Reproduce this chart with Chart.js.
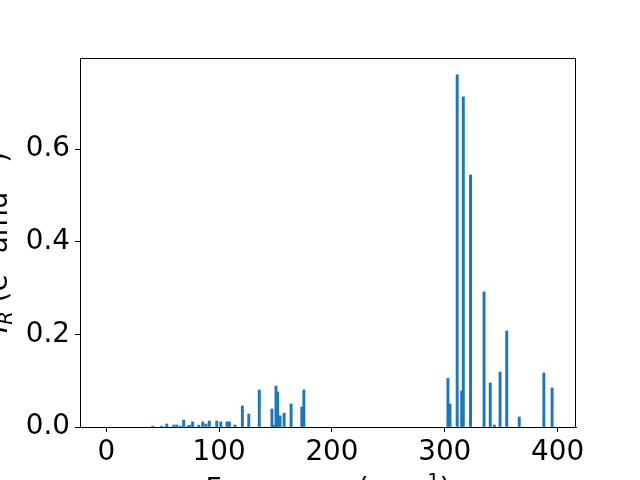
<!DOCTYPE html>
<html>
<head>
<meta charset="utf-8">
<script src="https://cdn.jsdelivr.net/npm/chart.js@4"></script>
<style>
  body { margin: 0; background: #fff; }
  canvas { display: block; }
</style>
</head>
<body>
<canvas id="irChart" width="640" height="480"></canvas>
<script>
// frequencies (cm^-1) and intensities
var freqs = [41.1, 49.1, 53.6, 59.8, 62.4, 65.6, 68.6, 72.2, 74.0, 76.6,
  81.9, 85.5, 88.3, 91.3, 97.9, 101.5, 107.0, 109.1, 114.1, 120.6,
  126.3, 135.6, 146.8, 148.2, 150.4, 151.9, 154.0, 157.6, 163.8, 173.3,
  175.1, 302.8, 304.6, 311.0, 315.0, 316.4, 322.8, 334.8, 340.3, 343.9,
  349.0, 354.9, 366.0, 387.8, 395.1];
var intensities = [0.002, 0.002, 0.0065, 0.0043, 0.0043, 0.002, 0.015, 0.002, 0.004, 0.011,
  0.004, 0.011, 0.0065, 0.013, 0.013, 0.011, 0.011, 0.011, 0.0043, 0.0454,
  0.028, 0.080, 0.0389, 0.004, 0.0886, 0.0756, 0.024, 0.030, 0.0497, 0.0432,
  0.080, 0.105, 0.0497, 0.7606, 0.0778, 0.713, 0.5445, 0.2917, 0.0951, 0.0043,
  0.1188, 0.2074, 0.0216, 0.1167, 0.0843];
var xTicks = [0, 100, 200, 300, 400];
var yTicks = [0.0, 0.2, 0.4, 0.6];

var tickFont = { family: 'DejaVu Sans', size: 27.8 };

function drawRuns(ctx, runs) {
  var total = 0;
  runs.forEach(function(r) {
    ctx.font = r.font;
    r.w = ctx.measureText(r.text).width;
    total += r.w;
  });
  var x = -total / 2;
  runs.forEach(function(r) {
    ctx.font = r.font;
    ctx.fillText(r.text, x, r.dy || 0);
    x += r.w;
  });
}

var axisTitles = {
  id: 'axisTitles',
  afterDraw: function(chart) {
    var ctx = chart.ctx;
    var area = chart.chartArea;
    var big = '27.8px "DejaVu Sans"';
    var bigIt = 'italic 27.8px "DejaVu Sans"';
    var small = '19.5px "DejaVu Sans"';
    var smallIt = 'italic 19.5px "DejaVu Sans"';

    ctx.save();
    // frame (top and right spines)
    ctx.strokeStyle = '#000';
    ctx.lineWidth = 1;
    ctx.strokeRect(area.left + 0.5, area.top + 0.5, area.right - area.left - 1, area.bottom - area.top);

    ctx.fillStyle = '#000';
    ctx.textAlign = 'left';
    ctx.textBaseline = 'alphabetic';

    // x title
    ctx.save();
    ctx.translate((area.left + area.right) / 2, 498);
    drawRuns(ctx, [
      { text: 'Frequency (cm', font: big },
      { text: '\u22121', font: small, dy: -11 },
      { text: ')', font: big }
    ]);
    ctx.restore();

    // y title
    ctx.save();
    ctx.translate(7, (area.top + area.bottom) / 2);
    ctx.rotate(-Math.PI / 2);
    drawRuns(ctx, [
      { text: 'I', font: bigIt },
      { text: 'R', font: smallIt, dy: 5 },
      { text: ' (e', font: big },
      { text: '2', font: small, dy: -11 },
      { text: ' amu', font: big },
      { text: '\u22121', font: small, dy: -11 },
      { text: ')', font: big }
    ]);
    ctx.restore();
    ctx.restore();
  }
};

function drawIrChart() {
  var points = freqs.map(function(f, i) { return { x: f, y: intensities[i] }; });

  var ctx = document.getElementById('irChart').getContext('2d');
  var irChart = new Chart(ctx, {
    type: 'bar',
    data: {
      datasets: [{
        data: points,
        backgroundColor: '#1f77b4',
        borderWidth: 0,
        barThickness: 2.3
      }]
    },
    options: {
      responsive: false,
      animation: false,
      devicePixelRatio: 1,
      layout: { padding: { top: 58, right: 64, left: 0, bottom: 0 } },
      plugins: { legend: { display: false }, tooltip: { enabled: false } },
      scales: {
        x: {
          type: 'linear',
          offset: false,
          min: -23.3,
          max: 416.3,
          afterFit: function(axis) { axis.height = 53; },
          grid: { drawOnChartArea: false, drawTicks: true, tickLength: 5, color: '#000', offset: false },
          border: { display: true, color: '#000', width: 1 },
          ticks: {
            font: tickFont,
            color: '#000',
            padding: 4,
            maxRotation: 0,
            autoSkip: false,
            includeBounds: false,
            stepSize: xTicks[1] - xTicks[0]
          }
        },
        y: {
          min: 0,
          max: 0.797,
          afterFit: function(axis) { axis.width = 80; },
          grid: { drawOnChartArea: false, drawTicks: true, tickLength: 5, color: '#000' },
          border: { display: true, color: '#000', width: 1 },
          ticks: {
            font: tickFont,
            color: '#000',
            padding: 5,
            autoSkip: false,
            includeBounds: false,
            stepSize: yTicks[1] - yTicks[0],
            callback: function(v) { return v.toFixed(1); }
          }
        }
      }
    },
    plugins: [axisTitles]
  });
}

drawIrChart();
</script>
</body>
</html>
